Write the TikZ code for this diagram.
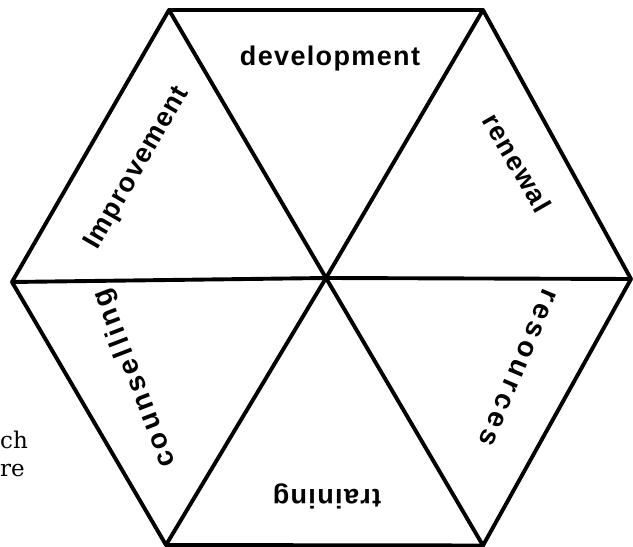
\documentclass[tikz,border=0pt]{standalone}
\usepackage{fontspec}
\setmainfont{Liberation Sans}
\newfontfamily\lblfont[LetterSpace=5]{Liberation Sans}
\newfontfamily\lblwide[LetterSpace=12]{Liberation Sans}
\newfontfamily\lblwider[LetterSpace=15]{Liberation Sans}
\newfontfamily\sideserif{DejaVu Serif}
\begin{document}
\begin{tikzpicture}[x=1pt,y=1pt,
  edge/.style={line width=3.9pt, line join=round, line cap=round},
  lbl/.style={font=\fontsize{27}{29}\lblfont\bfseries, anchor=base, inner sep=0pt},
  lblw/.style={font=\fontsize{28}{30}\lblwide\bfseries, anchor=base, inner sep=0pt},
  lblww/.style={font=\fontsize{28}{30}\lblwider\bfseries, anchor=base, inner sep=0pt},
  sidetext/.style={font=\fontsize{23}{26}\sideserif, anchor=base west, inner sep=0pt}]
\useasboundingbox (0,0) rectangle (633,547);
\coordinate (TL) at (169,537);
\coordinate (TR) at (483,537);
\coordinate (R) at (631,268);
\coordinate (BR) at (483,1.5);
\coordinate (BL) at (166,2);
\coordinate (L) at (12,265);
\coordinate (C) at (326,269);
\draw[edge] (TL) -- (TR) -- (R) -- (BR) -- (BL) -- (L) -- cycle;
\draw[edge] (TL) -- (C) -- (BR);
\draw[edge] (TR) -- (C) -- (BL);
\draw[edge] (L) -- (C) -- (R);
\node[lbl] (dev) at (330,481) {development};
\node[lbl, rotate=60] (imp) at (143,375.5) {Improvement};
\node[lbl, rotate=-60] (ren) at (509,379.5) {renewal};
\node[lblww, rotate=247] (res) at (511,182) {resources};
\node[lbl, rotate=180] (tra) at (327,57) {training};
\node[lblw, rotate=111] (cou) at (142,171.6) {counselling};
\node[sidetext] (ch) at (0,98) {ch};
\node[sidetext] (re) at (0,70) {re};
\end{tikzpicture}
\end{document}
